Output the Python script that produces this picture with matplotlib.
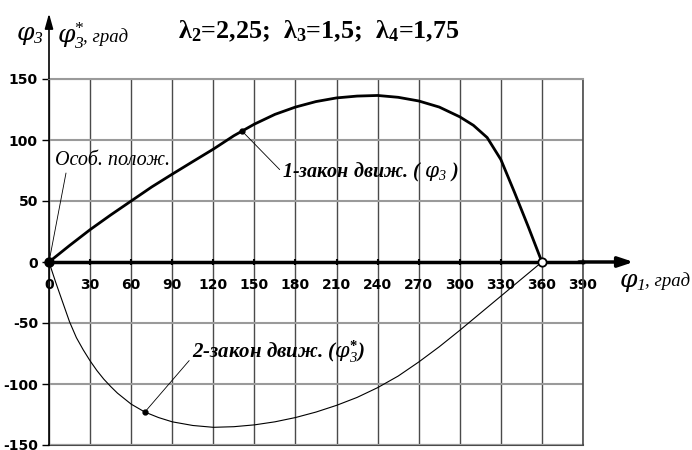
import numpy as np
import matplotlib
matplotlib.use('Agg')
import matplotlib.pyplot as plt

# углы кривошипа, град
phi1_a = [0, 15, 30, 45, 60, 75, 90, 105, 120, 135, 150, 165, 180, 195, 210, 225,
          240, 255, 270, 285, 300, 310, 320, 330, 340, 350, 360]
# 1-закон движения (phi3)
phi3 = [0, 13.5, 26.5, 38.5, 50, 61.5, 72, 82.3, 92.5, 103.5, 113, 121, 127, 131.5, 134.5, 136,
        136.5, 135, 132, 127, 119, 112, 102, 84, 57, 29, 0]

phi1_b = [0, 5, 10, 15, 20, 25, 30, 35, 40, 45, 50, 60, 70, 80, 90, 105, 120, 135, 150,
          165, 180, 195, 210, 225, 240, 255, 270, 285, 300, 315, 330, 345, 360]
# 2-закон движения (phi3*)
phi3_star = [0, -17, -33, -49, -62, -72, -81, -89, -96, -102, -107.5, -116.5, -123, -127.5, -131,
             -134, -135.5, -135, -133.5, -131, -127.5, -123, -117.5, -111, -103, -93.5, -82, -69.5,
             -56, -42, -28, -14, 0]

x_ticks = list(range(0, 391, 30))
y_ticks = [-150, -100, -50, 0, 50, 100, 150]

mark1_x = 141
mark2_x = 70

plt.rcParams['axes.unicode_minus'] = False
plt.rcParams['mathtext.fontset'] = 'custom'
plt.rcParams['mathtext.rm'] = 'Liberation Serif'
plt.rcParams['mathtext.it'] = 'Liberation Serif:italic'
plt.rcParams['mathtext.bf'] = 'Liberation Serif:bold'
plt.rcParams['mathtext.sf'] = 'Liberation Serif:italic'
plt.rcParams['mathtext.cal'] = 'DejaVu Serif:italic'   # фи с петлёй

PHI = '\\mathcal{φ}'

fig = plt.figure(figsize=(6.92, 4.5), dpi=100)
ax = fig.add_axes([49 / 692, 5 / 450, 534 / 692, 366 / 450])
ax.set_xlim(0, 390)
ax.set_ylim(-150, 150)

# сетка
ax.set_xticks(x_ticks)
ax.set_yticks(y_ticks)
ax.xaxis.grid(True, color='#4a4a4a', lw=1.0)
ax.yaxis.grid(True, color='#9a9a9a', lw=1.5)
ax.set_axisbelow(True)
ax.axhline(-150, color='#4a4a4a', lw=1.5, clip_on=False, zorder=0.5)

ax.spines['top'].set_color('#9a9a9a')
ax.spines['top'].set_linewidth(1.5)
ax.spines['right'].set_color('#4a4a4a')
ax.spines['right'].set_linewidth(1.2)
ax.spines['bottom'].set_position(('data', 0))
ax.spines['bottom'].set_linewidth(2.5)
ax.spines['left'].set_linewidth(1.2)

ax.tick_params(axis='x', direction='inout', length=5, width=1.5, pad=9, colors='k')
ax.tick_params(axis='y', direction='out', length=5, width=1.0, pad=3, colors='k')
for lab in ax.get_xticklabels() + ax.get_yticklabels():
    lab.set_fontfamily('DejaVu Sans')
    lab.set_fontweight('bold')
    lab.set_fontsize(10)

# стрелки осей
ax.annotate('', xy=(429, 0), xytext=(385, 0),
            arrowprops=dict(arrowstyle='-|>,head_length=0.9,head_width=0.3', lw=2.5, color='k'),
            annotation_clip=False)
ax.annotate('', xy=(0, 206), xytext=(0, 148),
            arrowprops=dict(arrowstyle='-|>,head_length=0.9,head_width=0.25', lw=1.2, color='k'),
            annotation_clip=False)

# кривые
ax.plot(phi1_a, phi3, color='k', lw=2.0, zorder=4, clip_on=False)
ax.plot(phi1_b, phi3_star, color='k', lw=0.8, zorder=4, clip_on=False)

ax.plot([0], [0], 'o', color='k', ms=6.5, zorder=6, clip_on=False)
ax.plot([360], [0], 'o', mfc='white', mec='k', mew=1.3, ms=6, zorder=6, clip_on=False)

# подписи кривых
m1y = np.interp(mark1_x, phi1_a, phi3)
m2y = np.interp(mark2_x, phi1_b, phi3_star)
ax.plot([mark1_x], [m1y], 'o', color='k', ms=3.5, zorder=6)
ax.plot([mark2_x], [m2y], 'o', color='k', ms=3.5, zorder=6)

serif = 'Liberation Serif'
ax.annotate('Особ. полож.', xy=(0, 0), xytext=(4.4, 83), ha='left', va='center',
            family=serif, style='italic', fontsize=14.5,
            arrowprops=dict(arrowstyle='-', lw=0.6, color='k', shrinkA=0, shrinkB=0,
                            relpos=(0.1, 0)))
ax.annotate('1-закон движ. ( $' + PHI + '_{\\mathsf{3}}$ )', xy=(mark1_x, m1y),
            xytext=(170.5, 73.4),
            ha='left', va='center', family=serif, style='italic', weight='bold', fontsize=14.5,
            arrowprops=dict(arrowstyle='-', lw=0.6, color='k', shrinkA=0, shrinkB=0,
                            relpos=(0, 0.5)))
ax.annotate('2-закон движ. ($' + PHI + '^{\\mathbf{*}}_{\\mathsf{3}}$)', xy=(mark2_x, m2y),
            xytext=(104.4, -73.8),
            ha='left', va='center', family=serif, style='italic', weight='bold', fontsize=15,
            arrowprops=dict(arrowstyle='-', lw=0.6, color='k', shrinkA=0, shrinkB=0,
                            relpos=(0, 0.3)))

# подписи осей и заголовок
fig.text(16 / 692, 1 - 36 / 450, '$' + PHI + '_{\\mathsf{3}}$', family=serif,
         fontsize=18, ha='left', va='center')
fig.text(57 / 692, 1 - 36 / 450, '$' + PHI + '^{*}_{\\mathsf{3}}$', family=serif,
         fontsize=18, ha='left', va='center')
fig.text(83 / 692, 1 - 37 / 450, ', град', family=serif, style='italic',
         fontsize=13.5, ha='left', va='center')
fig.text(619 / 692, 1 - 283 / 450, '$' + PHI + '_{\\mathsf{1}}$', family=serif,
         fontsize=18, ha='left', va='center')
fig.text(645 / 692, 1 - 281 / 450, ', град', family=serif, style='italic',
         fontsize=13.5, ha='left', va='center')
fig.text(178 / 692, 1 - 31 / 450,
         'λ$_{\\mathbf{2}}$=2,25;  λ$_{\\mathbf{3}}$=1,5;  λ$_{\\mathbf{4}}$=1,75',
         family=serif, weight='bold', fontsize=18.8, ha='left', va='center')

fig.savefig('out.png', dpi=100)
